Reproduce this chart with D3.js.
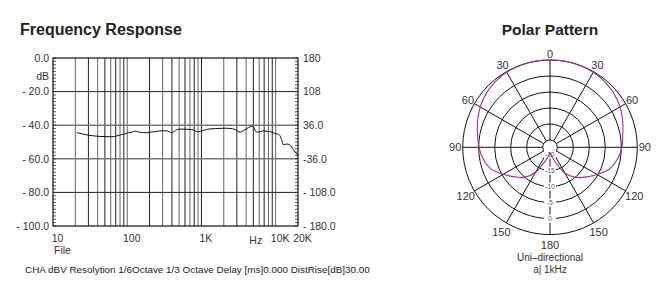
<!DOCTYPE html>
<html><head><meta charset="utf-8">
<script src="https://cdn.jsdelivr.net/npm/d3@7"></script>
<style>
html,body{margin:0;padding:0;background:#fff;}
svg{display:block;font-family:"Liberation Sans",Arial,sans-serif;}
</style></head>
<body>
<svg id="c" width="664" height="286"></svg>
<script>
// ---------- Frequency response data ----------
const freqHz = [21,25,31.5,38,43,52,65,72,80,92,103,115,127,141,160,183,215,250,300,341,398,465,530,601,680,739,850,908,1062,1200,1306,1550,1782,2100,2428,2850,3311,3700,4070,4909,5560,6200,6826,7600,8406,9820,11220,12000,12700,14100,15400,17350,19860];
const levelDb = [-44.4,-45.2,-46.1,-46.5,-46.7,-46.8,-46.8,-46.4,-45.8,-45.3,-44.5,-44.2,-43.5,-44.0,-44.4,-44.5,-44.0,-43.7,-43.3,-43.4,-44.4,-42.6,-42.3,-42.4,-42.5,-42.6,-43.6,-43.9,-43.1,-42.5,-42.2,-42.0,-41.9,-41.8,-41.9,-42.6,-44.1,-43.2,-42.0,-40.6,-44.2,-43.8,-43.4,-43.6,-43.8,-44.9,-45.8,-48.5,-51.6,-51.2,-51.6,-54.6,-57.9];
const dbTicks = [0,-20,-40,-60,-80,-100];
const leftTickLabels = ["0.0","- 20.0","- 40.0","- 60.0","- 80.0","- 100.0"];
const rightTickLabels = ["180","108","36.0","-36.0","- 108.0","- 180.0"];
const freqTicks = [10,100,1000,10000,20000];
const freqTickLabels = ["10","100","1K","10K","20K"];
const captionText = "CHA dBV Resolytion 1/6Octave 1/3 Octave Delay [ms]0.000 DistRise[dB]30.00";

// ---------- Polar data (dB, 0 deg at top, clockwise) ----------
const polarAngles = [0,10,20,30,40,50,60,70,80,90,100,110,120,130,140,150,160,170,180,190,200,210,220,230,240,250,260,270,280,290,300,310,320,330,340,350];
const polarDb =     [5.0,5.0,4.9,4.8,4.4,3.8,3.0,1.9,0.8,0.2,-0.9,-2.5,-5.3,-7.8,-10.0,-13.0,-17.4,-19.5,-20.6,-19.5,-17.6,-13.3,-10.1,-7.9,-5.4,-2.6,-1.1,-0.1,0.7,1.8,2.9,3.8,4.4,4.8,4.9,5.0];
const ringDb = [-20,-15,-10,-5,0,5];
const ringLabels = ["-20","-15","-10","-5","0"];
const spokeAngles = [0,30,60,90,120,150,180,210,240,270,300,330];
const spokeLabels = ["0","30","60","90","120","150","180","150","120","90","60","30"];

const svg = d3.select("#c");

// ================= Frequency response =================
const x = d3.scaleLog().domain([10,20000]).range([53,298]);
const y = d3.scaleLinear().domain([-100,0]).range([226,58]);

svg.append("text").attr("x",20).attr("y",35)
  .attr("font-size",16).attr("font-weight","bold").attr("fill","#222")
  .text("Frequency Response");

// vertical grid
const vgrid = [];
[10,100,1000,10000].forEach(dec=>{ for(let m=1;m<=9;m++){ const v=dec*m; if(v>10 && v<20000) vgrid.push(v);} });
svg.append("g").selectAll("line").data(vgrid).join("line")
  .attr("x1",d=>x(d)).attr("x2",d=>x(d)).attr("y1",y(0)).attr("y2",y(-100))
  .attr("stroke",(d,i)=> i%2? "#222":"#666").attr("stroke-width",1);

// horizontal grid
svg.append("g").selectAll("line").data([-20,-40,-60,-80]).join("line")
  .attr("x1",x(10)).attr("x2",x(20000)).attr("y1",d=>y(d)).attr("y2",d=>y(d))
  .attr("stroke",d=> (d===-40||d===-60)?"#777":"#222")
  .attr("stroke-width",d=> (d===-40||d===-60)?1.6:1);

// minor ladder ticks on left/right borders
const minor = d3.range(-100,0.1,2);
svg.append("g").selectAll("line").data(minor).join("line")
  .attr("x1",x(10)).attr("x2",x(10)+3).attr("y1",d=>y(d)).attr("y2",d=>y(d))
  .attr("stroke","#333").attr("stroke-width",0.8);
svg.append("g").selectAll("line").data(minor).join("line")
  .attr("x1",x(20000)-3).attr("x2",x(20000)).attr("y1",d=>y(d)).attr("y2",d=>y(d))
  .attr("stroke","#333").attr("stroke-width",0.8);

// frame
svg.append("rect").attr("x",x(10)).attr("y",y(0))
  .attr("width",x(20000)-x(10)).attr("height",y(-100)-y(0))
  .attr("fill","none").attr("stroke","#111").attr("stroke-width",1.2);

// curve
const line = d3.line().x((d,i)=>x(freqHz[i])).y(d=>y(d)).curve(d3.curveMonotoneX);
svg.append("path").datum(levelDb).attr("d",line)
  .attr("fill","none").attr("stroke","#111").attr("stroke-width",1);

// axes
const axL = svg.append("g").attr("transform",`translate(${x(10)},0)`)
  .call(d3.axisLeft(y).tickValues(dbTicks).tickFormat((d,i)=>leftTickLabels[i]).tickSize(0).tickPadding(4));
const axR = svg.append("g").attr("transform",`translate(${x(20000)},0)`)
  .call(d3.axisRight(y).tickValues(dbTicks).tickFormat((d,i)=>rightTickLabels[i]).tickSize(0).tickPadding(5));
const axB = svg.append("g").attr("transform",`translate(0,${y(-100)})`)
  .call(d3.axisBottom(x).tickValues(freqTicks).tickFormat((d,i)=>freqTickLabels[i]).tickSize(0).tickPadding(9));
[axL,axR,axB].forEach(a=>{
  a.select(".domain").remove();
  a.selectAll("text").attr("font-size",10.5).attr("fill","#333")
   .attr("font-family","'Liberation Sans',Arial,sans-serif");
});
axB.selectAll("text").attr("dx",4);

svg.append("text").attr("x",x(10)-4).attr("y",y(-11)+4).attr("text-anchor","end")
  .attr("font-size",10.5).attr("fill","#333").text("dB");
svg.append("text").attr("x",x(5400)).attr("y",y(-100)+18).attr("text-anchor","middle")
  .attr("font-size",10.5).attr("fill","#333").text("Hz");
svg.append("text").attr("x",x(10)+1).attr("y",y(-100)+28)
  .attr("font-size",10.5).attr("fill","#333").text("File");
svg.append("text").attr("x",25).attr("y",273)
  .attr("font-size",9.9).attr("fill","#222").text(captionText);

// ================= Polar pattern =================
const cx = 550, cy = 147.3;
const r = d3.scaleLinear().domain([-20,5]).range([7.3,87.3]);
svg.append("text").attr("x",cx).attr("y",35).attr("text-anchor","middle")
  .attr("font-size",15.5).attr("font-weight","bold").attr("fill","#222").text("Polar Pattern");

const pg = svg.append("g").attr("transform",`translate(${cx},${cy})`);
pg.selectAll("circle").data(ringDb).join("circle")
  .attr("r",d=>r(d)).attr("fill","none").attr("stroke","#111").attr("stroke-width",1);
pg.append("g").selectAll("line").data(spokeAngles).join("line")
  .attr("x1",d=>r(-20)*Math.sin(d*Math.PI/180)).attr("y1",d=>-r(-20)*Math.cos(d*Math.PI/180))
  .attr("x2",d=>r(5)*Math.sin(d*Math.PI/180)).attr("y2",d=>-r(5)*Math.cos(d*Math.PI/180))
  .attr("stroke","#111").attr("stroke-width",1);

// ring labels along 180 spoke
const rl = pg.append("g").selectAll("g").data(ringLabels).join("g")
  .attr("transform",(d,i)=>`translate(0,${r(ringDb[i])})`);
rl.append("rect").attr("x",-6).attr("y",-4).attr("width",12).attr("height",8).attr("fill","#fff");
rl.append("text").attr("text-anchor","middle").attr("dy",2.5)
  .attr("font-size",6.5).attr("fill","#555").text(d=>d);

// curve
const radial = d3.lineRadial()
  .angle((d,i)=>polarAngles[i]*Math.PI/180).radius(d=>r(d))
  .curve(d3.curveCatmullRomClosed.alpha(0.5));
pg.append("path").datum(polarDb).attr("d",radial)
  .attr("fill","none").attr("stroke","#a3307f").attr("stroke-width",1.1);

// angle labels
const off = {1:6,2:7.5,3:10};
pg.append("g").selectAll("text").data(spokeLabels).join("text")
  .attr("x",(d,i)=>(r(5)+off[d.length])*Math.sin(spokeAngles[i]*Math.PI/180))
  .attr("y",(d,i)=>-(r(5)+off[d.length])*Math.cos(spokeAngles[i]*Math.PI/180))
  .attr("text-anchor","middle").attr("dy","0.36em")
  .attr("font-size",11).attr("fill","#333").text(d=>d);

svg.append("text").attr("x",cx).attr("y",261).attr("text-anchor","middle")
  .attr("font-size",10).attr("fill","#333").text("Uni–directional");
svg.append("text").attr("x",cx).attr("y",273).attr("text-anchor","middle")
  .attr("font-size",10).attr("fill","#333").text("a| 1kHz");
</script>
</body></html>
